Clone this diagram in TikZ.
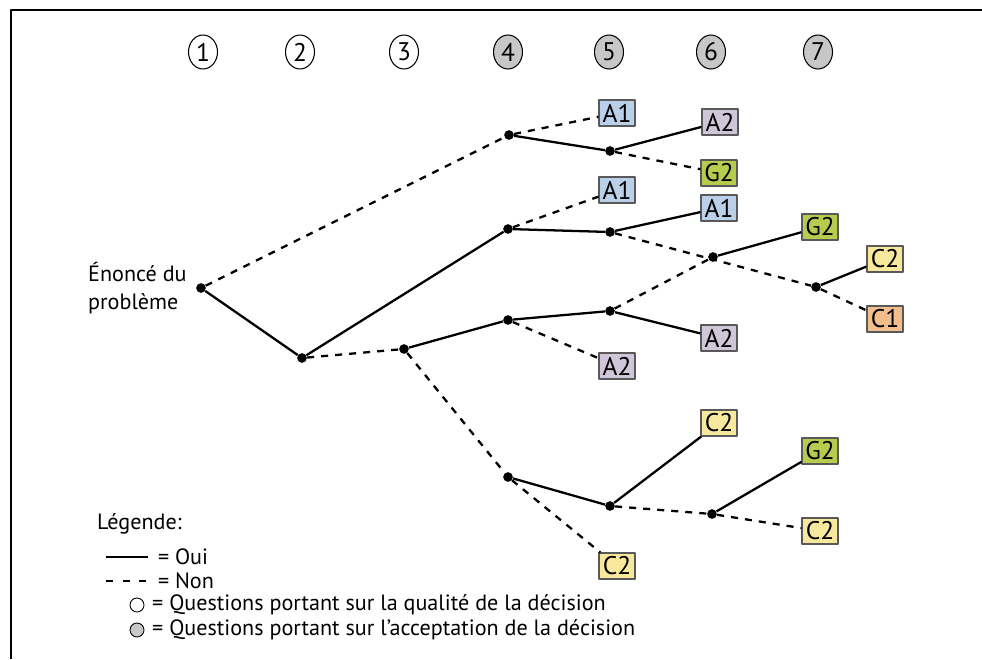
\documentclass[tikz,border=0pt]{standalone}
\usepackage{fontspec}
\setmainfont{PT Sans}
\usetikzlibrary{shapes.geometric,positioning}
\definecolor{bleuA}{HTML}{B9D0E8}
\definecolor{mauveA}{HTML}{CFC6DA}
\definecolor{vertG}{HTML}{B6CC4E}
\definecolor{jauneC}{HTML}{F8E89E}
\definecolor{orangeC}{HTML}{F4BE8C}

\begin{document}
\begin{tikzpicture}[x=0.02cm,y=-0.02cm, line join=round, font=\fontsize{12.6}{15.5}\selectfont,
	oui/.style={line width=1.3pt},
	non/.style={line width=1.3pt, dash pattern=on 4pt off 4pt},
	pt/.style={circle,fill=black,inner sep=0pt,minimum size=5.5pt},
	rep/.style={draw=black!65,line width=0.7pt,minimum width=0.72cm,minimum height=0.52cm,inner sep=0pt,font=\fontsize{14.5}{14.5}\selectfont},
	num/.style={ellipse,draw,line width=0.6pt,minimum width=0.58cm,minimum height=0.68cm,inner sep=0pt,font=\fontsize{14.5}{14.5}\selectfont}]
	\useasboundingbox (0,0) rectangle (982,659);
	% cadre
	\draw[line width=1.3pt] (11,659)--(11,10)--(982,10);
	% numéros des questions
	\foreach \i/\x/\c in {1/203/white,2/300/white,3/404/white,4/508/black!22,5/609/black!22,6/711/black!22,7/818/black!22}
		\node[num,fill=\c] (q\i) at (\x,52) {\i};
	% points de décision
	\node[pt] (r) at (201,288) {};
	\node[pt] (n2) at (302,358) {};
	\node[pt] (n3) at (404,349) {};
	\node[pt] (a4) at (509,135) {};
	\node[pt] (b4) at (508,229) {};
	\node[pt] (c4) at (508,320) {};
	\node[pt] (d4) at (508,477) {};
	\node[pt] (a5) at (610,151) {};
	\node[pt] (b5) at (610,232) {};
	\node[pt] (c5) at (610,311) {};
	\node[pt] (d5) at (610,506) {};
	\node[pt] (a6) at (713,257) {};
	\node[pt] (b6) at (712,514) {};
	\node[pt] (a7) at (816,287) {};
	\node[left=0.06cm of r, align=left] (enonce) {Énoncé du\\problème};
	% styles de décision
	\node[rep,fill=bleuA] (s1) at (617,113) {A1};
	\node[rep,fill=mauveA] (s2) at (720,122) {A2};
	\node[rep,fill=vertG] (s3) at (719,173) {G2};
	\node[rep,fill=bleuA] (s4) at (617,190) {A1};
	\node[rep,fill=bleuA] (s5) at (719,208) {A1};
	\node[rep,fill=vertG] (s6) at (820,227) {G2};
	\node[rep,fill=jauneC] (s7) at (885,259) {C2};
	\node[rep,fill=orangeC] (s8) at (885,319) {C1};
	\node[rep,fill=mauveA] (s9) at (719,338) {A2};
	\node[rep,fill=mauveA] (s10) at (617,366) {A2};
	\node[rep,fill=jauneC] (s11) at (719,423) {C2};
	\node[rep,fill=vertG] (s12) at (820,451) {G2};
	\node[rep,fill=jauneC] (s13) at (820,531) {C2};
	\node[rep,fill=jauneC] (s14) at (617,566) {C2};
	% branches
	\draw[non] (r)--(a4);
	\draw[oui] (r)--(n2)--(b4);
	\draw[non] (n2)--(n3);
	\draw[oui] (n3)--(c4);
	\draw[non] (n3)--(d4);
	\draw[non] (a4)--(s1);
	\draw[oui] (a4)--(a5)--(s2);
	\draw[non] (a5)--(s3);
	\draw[non] (b4)--(s4);
	\draw[oui] (b4)--(b5)--(s5);
	\draw[non] (b5)--(a7);
	\draw[oui] (c4)--(c5)--(s9);
	\draw[non] (c4)--(s10);
	\draw[non] (c5)--(a6);
	\draw[oui] (a6)--(s6);
	\draw[oui] (a7)--(s7);
	\draw[non] (a7)--(s8);
	\draw[oui] (d4)--(d5)--(s11);
	\draw[non] (d4)--(s14);
	\draw[non] (d5)--(b6);
	\draw[oui] (b6)--(s12);
	\draw[non] (b6)--(s13);
	% légende
	\node[anchor=west] (leg) at (91,524) {Légende:};
	\draw[oui] (106,557)--(148,557) node[right=0.06cm] {= Oui};
	\draw[line width=1.3pt, dash pattern=on 4pt off 5.5pt] (106,581)--(148,581) node[right=0.06cm] {= Non};
	\draw[line width=0.5pt] (137,605) circle (7);
	\node[anchor=west] at (146,605) {= Questions portant sur la qualité de la décision};
	\draw[line width=0.5pt,fill=black!22] (137,630) circle (7);
	\node[anchor=west] at (146,630) {= Questions portant sur l’acceptation de la décision};
\end{tikzpicture}
\end{document}
